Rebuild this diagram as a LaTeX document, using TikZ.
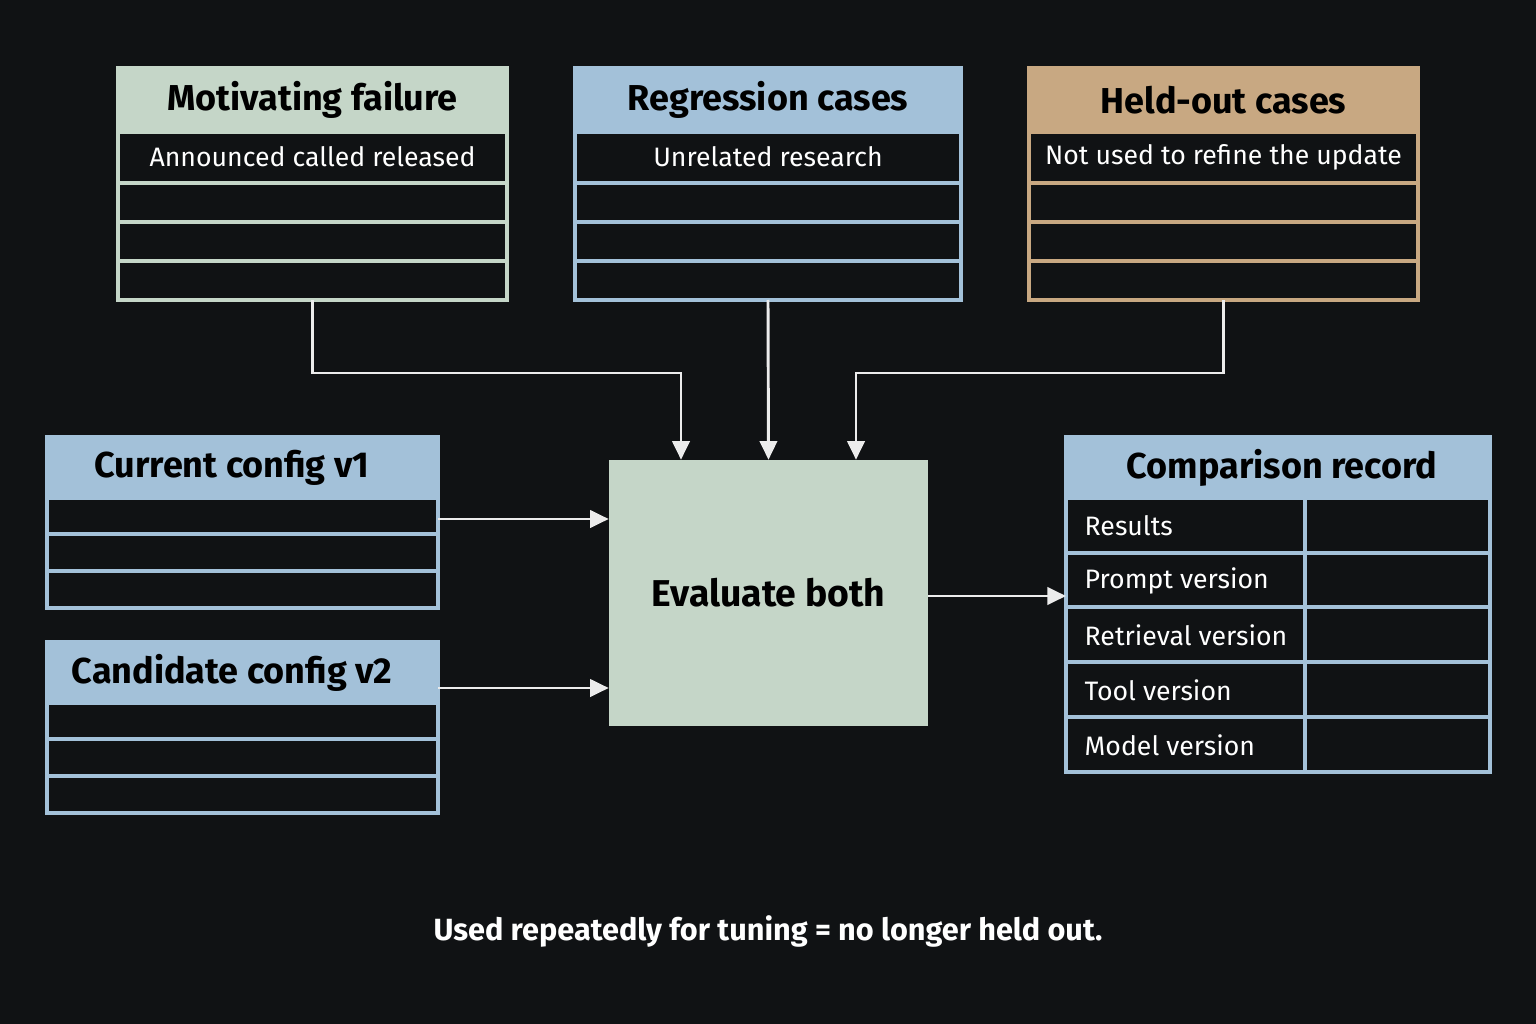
\documentclass[tikz,border=0pt]{standalone}
\usepackage{fontspec}
\setmainfont{Fira Sans}
\usetikzlibrary{positioning,calc,arrows.meta}
\definecolor{bgdark}{HTML}{101214}
\definecolor{sage}{HTML}{C5D6C8}
\definecolor{sky}{HTML}{A3C1D9}
\definecolor{tan}{HTML}{C8A882}
\definecolor{wire}{HTML}{ECECEC}

\tikzset{
  hdr/.style={anchor=north west, inner sep=0pt, text=black, font=\fontsize{27}{30}\selectfont\bfseries},
  rowtxt/.style={text=white, font=\fontsize{20}{24}\selectfont},
  link/.style={wire, line width=2.2pt, -{Triangle[length=14pt,width=13pt]}}
}

\begin{document}
\begin{tikzpicture}[x=0.75pt,y=-0.75pt]
\fill[bgdark] (0,0) rectangle (1536,1024);
\useasboundingbox (0,0) rectangle (1536,1024);

% Top case tables
\foreach \x/\w/\col/\name/\title/\sub in {
    118/389/sage/mot/Motivating failure/Announced called released,
    575/386/sky/reg/Regression cases/Unrelated research,
    1029/389/tan/held/Held-out cases/Not used to refine the update
} {
    \fill[\col] (\x,68) rectangle (\x+\w,132);
    \node[hdr, anchor=center] at (\x+\w/2,100) {\title};
    \node[rowtxt] at (\x+\w/2,157) {\sub};
    \foreach \y in {132,183,222,261}
        \draw[\col, line width=2.5pt] (\x,\y) -- (\x+\w,\y);
    \draw[\col, line width=2.5pt] (\x,68) rectangle (\x+\w,300);
    \coordinate (\name) at (\x+\w/2,300);
}

% Config tables
\foreach \y/\name/\title in {437/cur/Current config v1, 642/cand/Candidate config v2} {
    \fill[sky] (47,\y) rectangle (438,\y+61);
    \node[hdr, anchor=center] at (232,\y+31) {\title};
    \foreach \d in {61,97,134}
        \draw[sky, line width=2.5pt] (47,\y+\d) -- (438,\y+\d);
    \draw[sky, line width=2.5pt] (47,\y) rectangle (438,\y+171);
}
\coordinate (cur) at (438,519);
\coordinate (cand) at (438,688);

% Evaluation
\node[fill=sage, minimum width=239.25pt, minimum height=199.5pt, inner sep=0pt,
      font=\fontsize{28}{32}\selectfont\bfseries] (eval) at (768.5,593) {Evaluate both};

% Comparison record
\fill[sky] (1066,437) rectangle (1490,498);
\node[hdr, anchor=center] at (1282,468) {Comparison record};
\foreach \y/\lbl in {498/Results, 553/Prompt version, 607/Retrieval version, 662/Tool version, 717/Model version} {
    \draw[sky, line width=2.5pt] (1066,\y) -- (1490,\y);
    \node[rowtxt, anchor=west] at (1080,\y+28) {\lbl};
}
\draw[sky, line width=2.5pt] (1305,498) -- (1305,772);
\draw[sky, line width=2.5pt] (1066,437) rectangle (1490,772);
\coordinate (rec) at (1066,596);
\coordinate (inl) at (681,373);
\coordinate (inr) at (856,373);

% Connectors
\draw[link] (mot) |- (inl) -- (inl |- eval.north);
\draw[link] (reg) -- (eval.north);
\draw[link] (held) |- (inr) -- (inr |- eval.north);
\draw[link] (cur) -- (cur -| eval.west);
\draw[link] (cand) -- (cand -| eval.west);
\draw[link] (eval.east |- rec) -- (rec);

\node[text=white, font=\fontsize{23}{28}\selectfont\bfseries] (note) at (768,931)
    {Used repeatedly for tuning = no longer held out.};
\end{tikzpicture}
\end{document}
